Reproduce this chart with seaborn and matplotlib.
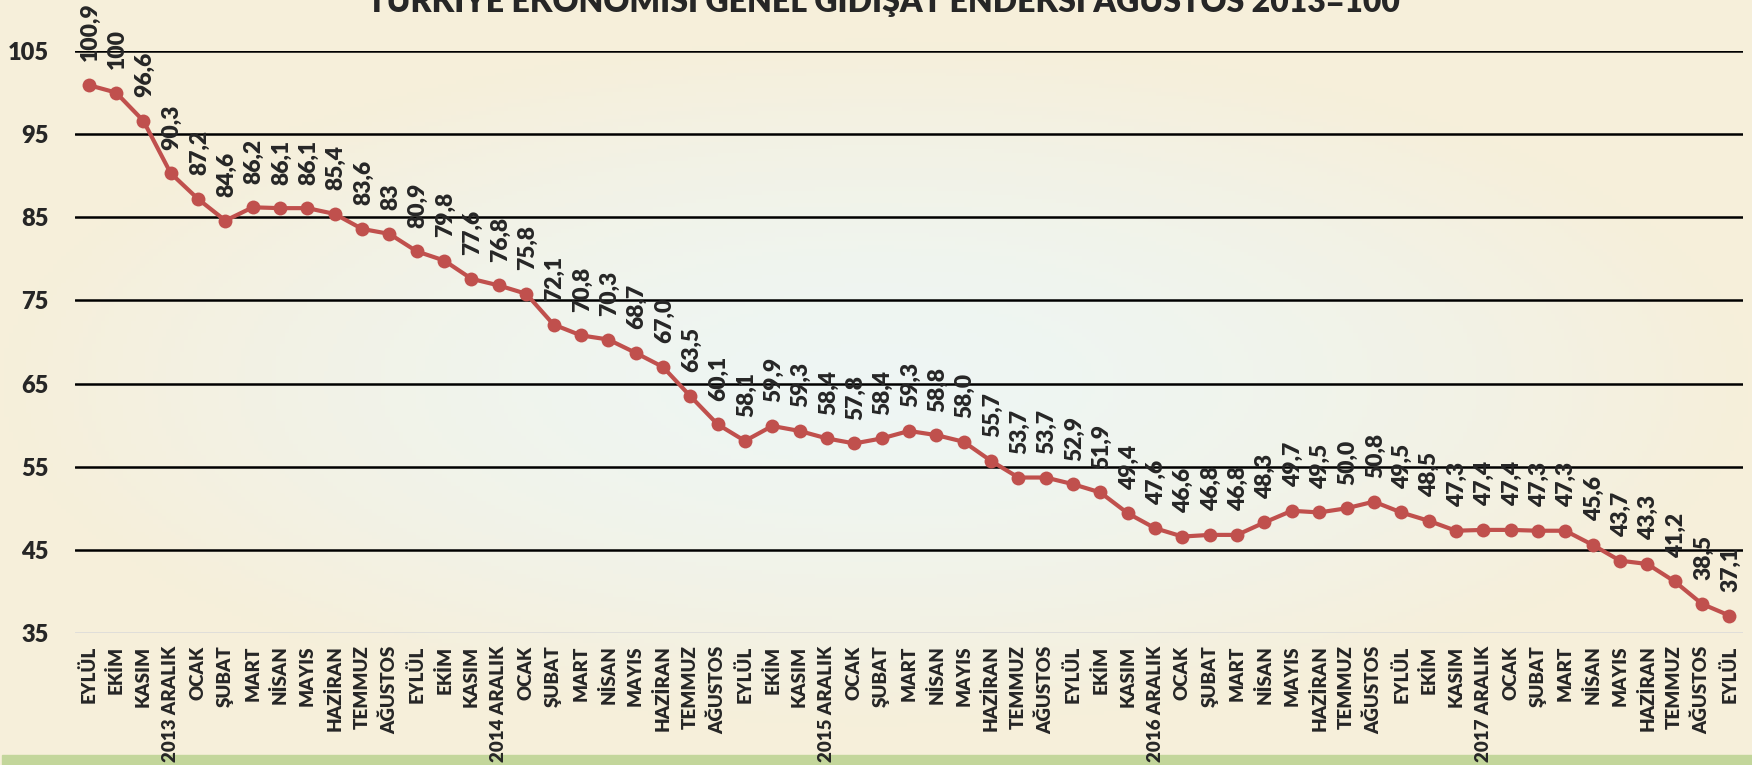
import numpy as np
import pandas as pd
import seaborn as sns
import matplotlib.pyplot as plt

months = ['EYLÜL', 'EKİM', 'KASIM', '2013 ARALIK', 'OCAK', 'ŞUBAT', 'MART', 'NİSAN', 'MAYIS',
          'HAZİRAN', 'TEMMUZ', 'AĞUSTOS', 'EYLÜL', 'EKİM', 'KASIM', '2014 ARALIK', 'OCAK',
          'ŞUBAT', 'MART', 'NİSAN', 'MAYIS', 'HAZİRAN', 'TEMMUZ', 'AĞUSTOS', 'EYLÜL', 'EKİM',
          'KASIM', '2015 ARALIK', 'OCAK', 'ŞUBAT', 'MART', 'NİSAN', 'MAYIS', 'HAZİRAN',
          'TEMMUZ', 'AĞUSTOS', 'EYLÜL', 'EKİM', 'KASIM', '2016 ARALIK', 'OCAK', 'ŞUBAT',
          'MART', 'NİSAN', 'MAYIS', 'HAZİRAN', 'TEMMUZ', 'AĞUSTOS', 'EYLÜL', 'EKİM', 'KASIM',
          '2017 ARALIK', 'OCAK', 'ŞUBAT', 'MART', 'NİSAN', 'MAYIS', 'HAZİRAN', 'TEMMUZ',
          'AĞUSTOS', 'EYLÜL']
index_values = [100.9, 100, 96.6, 90.3, 87.2, 84.6, 86.2, 86.1, 86.1, 85.4, 83.6, 83, 80.9,
                79.8, 77.6, 76.8, 75.8, 72.1, 70.8, 70.3, 68.7, 67.0, 63.5, 60.1, 58.1, 59.9,
                59.3, 58.4, 57.8, 58.4, 59.3, 58.8, 58.0, 55.7, 53.7, 53.7, 52.9, 51.9, 49.4,
                47.6, 46.6, 46.8, 46.8, 48.3, 49.7, 49.5, 50.0, 50.8, 49.5, 48.5, 47.3, 47.4,
                47.4, 47.3, 47.3, 45.6, 43.7, 43.3, 41.2, 38.5, 37.1]
# labels as printed on the chart
value_labels = ['100,9', '100', '96,6', '90,3', '87,2', '84,6', '86,2', '86,1', '86,1', '85,4',
                '83,6', '83', '80,9', '79,8', '77,6', '76,8', '75,8', '72,1', '70,8', '70,3',
                '68,7', '67,0', '63,5', '60,1', '58,1', '59,9', '59,3', '58,4', '57,8', '58,4',
                '59,3', '58,8', '58,0', '55,7', '53,7', '53,7', '52,9', '51,9', '49,4', '47,6',
                '46,6', '46,8', '46,8', '48,3', '49,7', '49,5', '50,0', '50,8', '49,5', '48,5',
                '47,3', '47,4', '47,4', '47,3', '47,3', '45,6', '43,7', '43,3', '41,2', '38,5',
                '37,1']
y_ticks = [35, 45, 55, 65, 75, 85, 95, 105]
title = 'TÜRKİYE EKONOMİSİ GENEL GİDİŞAT ENDEKSİ AĞUSTOS 2013=100'

sns.set_style('white')
plt.rcParams['font.family'] = ['Lato', 'DejaVu Sans']

df = pd.DataFrame({'pos': np.arange(len(index_values)), 'value': index_values})

fig = plt.figure(figsize=(17.52, 7.65), dpi=100)

# background: cream with a lighter, slightly cool centre + green band at the bottom
bg = fig.add_axes([0, 0, 1, 1], zorder=-5)
yy, xx = np.mgrid[-1:1:200j, -1:1:400j]
r = np.clip(np.sqrt((xx / 1.0) ** 2 + (yy / 0.9) ** 2), 0, 1)
c_in = np.array([0xEE, 0xF6, 0xF4]) / 255
c_out = np.array([0xF6, 0xEF, 0xDA]) / 255
img = c_in[None, None, :] * (1 - r[..., None] ** 1.5) + c_out[None, None, :] * (r[..., None] ** 1.5)
bg.imshow(img, aspect='auto', extent=[0, 1, 0, 1])
bg.axhspan(0, 10 / 765, xmin=2 / 1752, color='#C3D69B')
bg.set_xlim(0, 1)
bg.set_ylim(0, 1)
bg.axis('off')

ax = fig.add_axes([75 / 1752, 132 / 765, 1668 / 1752, 582 / 765])
ax.set_facecolor('none')

sns.lineplot(data=df, x='pos', y='value', ax=ax, color='#C0504D', lw=3,
             marker='o', markersize=10, markeredgewidth=0, zorder=3)

for i, (v, lab) in enumerate(zip(index_values, value_labels)):
    ax.annotate(lab, (i, v), xytext=(1, 17), textcoords='offset points',
                rotation=90, ha='center', va='bottom', fontsize=16.5,
                fontweight='heavy', annotation_clip=False, zorder=4)

ax.set_xlim(-0.5, len(index_values) - 0.5)
ax.set_ylim(35, 105)
ax.set_yticks(y_ticks)
ax.set_xticks(df['pos'])
ax.set_xticklabels(months, rotation=90, fontsize=13.5, fontweight='heavy')
ax.tick_params(axis='x', length=0, pad=9)
ax.tick_params(axis='y', length=0, pad=19, labelsize=17)
for t in ax.get_yticklabels():
    t.set_fontweight('heavy')

for y in y_ticks:
    if y == 35:
        ax.axhline(y, color='#D9D9D9', lw=1.8, zorder=1)
    else:
        ax.axhline(y, color='black', lw=1.8, zorder=1)

sns.despine(ax=ax, left=True, bottom=True)
ax.set_xlabel('')
ax.set_ylabel('')

fig.text(0.504, 1 - 12 / 765, title, ha='center', va='baseline',
         fontsize=23, fontweight='heavy')

fig.savefig('out.png', dpi=100)
